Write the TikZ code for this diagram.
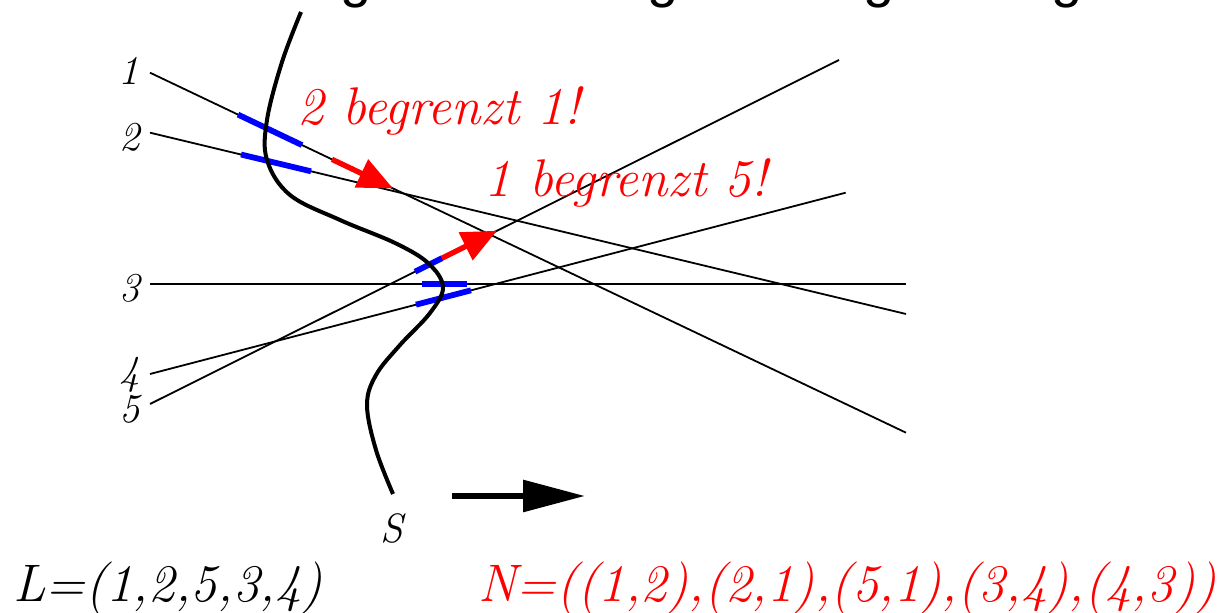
\documentclass[tikz,border=0pt]{standalone}
\usepackage{fontspec}
\newfontfamily\gfont{Liberation Sans}
\usetikzlibrary{arrows.meta,calc}
\begin{document}
\begin{tikzpicture}[x=0.5pt,y=-0.5pt,
  thinline/.style={line width=0.9pt,black},
  bluemark/.style={line width=2.9pt,blue},
  redarrow/.style={line width=2.7pt,red,-{Triangle[length=17.5pt,width=15pt]}},
  lab/.style={inner sep=0pt,font=\fontsize{20.5}{24}\selectfont\itshape},
  bigtxt/.style={inner sep=0pt,font=\fontsize{26.4}{30}\selectfont\itshape},
  redtxt/.style={inner sep=0pt,red,font=\fontsize{26.5}{30}\selectfont\itshape},
  gtxt/.style={inner sep=0pt,font=\fontsize{28}{32}\gfont}]
\useasboundingbox (0,0) rectangle (1220,613);
% cut-off title letters
\node[gtxt,anchor=base] (g1) at (356,-3) {g};
\node[gtxt,anchor=base] (g2) at (663,-3) {g};
\node[gtxt,anchor=base] (g3) at (879,-3) {g};
\node[gtxt,anchor=base] (g4) at (1067,-3) {g};
% line end points
\coordinate (l1s) at (150,72.7);  \coordinate (l1e) at (906,432.7);
\coordinate (l2s) at (150,132.7); \coordinate (l2e) at (906,314);
\coordinate (l3s) at (150,284);   \coordinate (l3e) at (906,284);
\coordinate (l4s) at (150,374);   \coordinate (l4e) at (845.7,192.7);
\coordinate (l5s) at (150,404);   \coordinate (l5e) at (839,60);
% labels
\node[lab,anchor=base east] (n1) at (139,85) {1};
\node[lab,anchor=base east] (n2) at (140,151) {2};
\node[lab,anchor=base east] (n3) at (140,302) {3};
\node[lab,anchor=base east] (n4) at (140,385) {4};
\node[lab,anchor=base east] (n5) at (140,423) {5};
% lines
\draw[thinline] (l1s) -- (l1e);
\draw[thinline] (l2s) -- (l2e);
\draw[thinline] (l3s) -- (l3e);
\draw[thinline] (l4s) -- (l4e);
\draw[thinline] (l5s) -- (l5e);
% blue marks
\draw[bluemark] ($(l1s)!0.1164!(l1e)$) -- ($(l1s)!0.2011!(l1e)$);
\draw[bluemark] ($(l2s)!0.1204!(l2e)$) -- ($(l2s)!0.2130!(l2e)$);
\draw[bluemark] ($(l3s)!0.3598!(l3e)$) -- ($(l3s)!0.4193!(l3e)$);
\draw[bluemark] ($(l4s)!0.3823!(l4e)$) -- ($(l4s)!0.4614!(l4e)$);
\draw[bluemark] ($(l5s)!0.3846!(l5e)$) -- ($(l5s)!0.4238!(l5e)$);
% red arrows
\draw[redarrow] ($(l1s)!0.2407!(l1e)$) -- ($(l1s)!0.3214!(l1e)$);
\draw[redarrow] ($(l5s)!0.4238!(l5e)$) -- ($(l5s)!0.5036!(l5e)$);
% sweep curve
\draw[line width=2pt,black] plot[smooth,tension=0.6] coordinates {
 (301,12) (282,62) (267,120) (267,160) (290,195) (340,220) (395,243)
 (428,263) (443,287) (430,313) (400,345) (376,375) (367,405) (376,450) (393,494)};
\node[lab,anchor=base] (S) at (392,543) {S};
% direction arrow
\coordinate (da) at (452,496);
\coordinate (db) at (585,496);
\draw[line width=3pt,-{Triangle[length=31pt,width=15.5pt]}] (da) -- (db);
% texts
\node[redtxt,anchor=base west] (t1) at (297,125) {2 begrenzt 1!};
\node[redtxt,anchor=base west] (t2) at (484,197) {1 begrenzt 5!};
\node[bigtxt,anchor=base west] (L) at (13,602) {L=(1,2,5,3,4)};
\node[bigtxt,anchor=base west,red] (N) at (478,602) {N=((1,2),(2,1),(5,1),(3,4),(4,3))};
\end{tikzpicture}
\end{document}
